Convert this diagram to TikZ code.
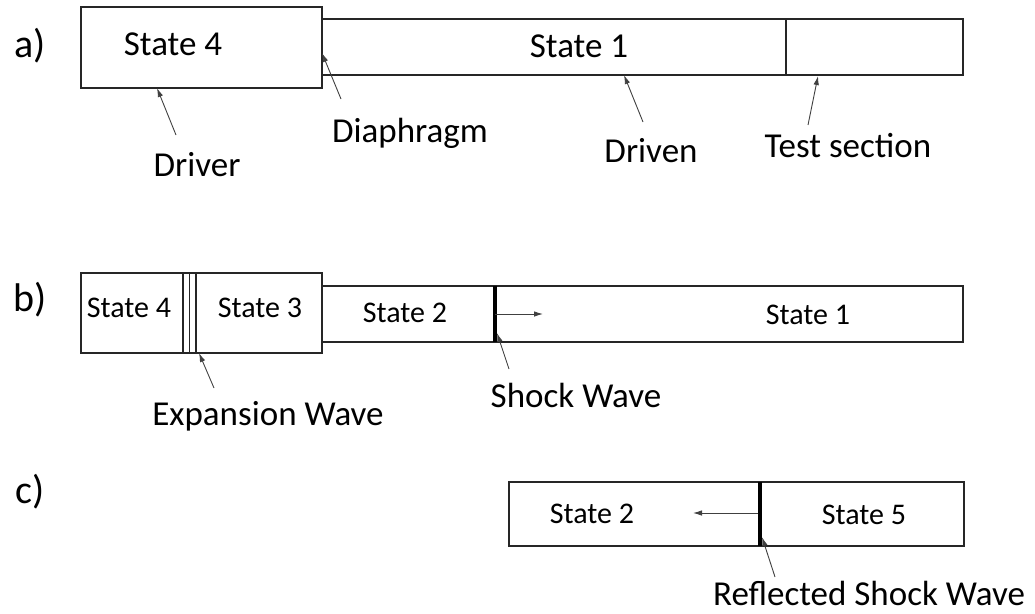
\documentclass[tikz,border=0pt]{standalone}
\usepackage{fontspec}
\setmainfont{Carlito}
\usetikzlibrary{positioning,arrows.meta}

\begin{document}
\begin{tikzpicture}[x=1pt,y=-1pt,
  wall/.style={line width=1.3pt,black!85},
  shock/.style={line width=4pt,black},
  pointer/.style={-{Latex[length=9pt,width=5.5pt]},line width=0.9pt,black!75},
  lbl/.style={anchor=base,inner sep=0pt,font=\fontsize{35}{40}\selectfont},
  state/.style={anchor=base,inner sep=0pt,font=\fontsize{30}{36}\selectfont},
  part/.style={anchor=base,inner sep=0pt,font=\fontsize{40}{46}\selectfont}]
\useasboundingbox (0,0) rectangle (1035,613);
\node[part] (pa) at (30,57) {a)};
\node[part] (pb) at (30,311) {b)};
\node[part] (pc) at (30,503) {c)};
% a) tube at rest
\draw[wall] (81,7) rectangle (322,88);
\draw[wall] (322,19) -- (963,19) -- (963,75) -- (322,75);
\draw[wall] (786,19) -- (786,75);
\node[lbl] (a4) at (173,55) {State 4};
\node[lbl] (a1) at (579,57) {State 1};
\node[lbl] (drvlbl) at (197,176) {Driver};
\node[lbl] (dialbl) at (410,142) {Diaphragm};
\node[lbl] (dnlbl) at (651,162) {Driven};
\node[lbl] (tstlbl) at (848,157) {Test section};
\coordinate (drvtail) at (176,135); \coordinate (drvtip) at (157,88);
\coordinate (diatail) at (341,99); \coordinate (diatip) at (322,53);
\coordinate (dntail) at (643,122); \coordinate (dntip) at (624,75);
\coordinate (tsttail) at (808,125); \coordinate (tsttip) at (818,76);
\draw[pointer] (drvtail) -- (drvtip);
\draw[pointer] (diatail) -- (diatip);
\draw[pointer] (dntail) -- (dntip);
\draw[pointer] (tsttail) -- (tsttip);
% b) after the diaphragm bursts
\draw[wall] (81,273) rectangle (322,353);
\foreach \xx in {183,189.5,196}
  \draw[wall] (\xx,273) -- (\xx,353);
\draw[wall] (322,286) -- (963,286) -- (963,342) -- (322,342);
\draw[shock] (495,286) -- (495,342);
\coordinate (bshock) at (495,314); \coordinate (bmove) at (543,314);
\draw[pointer] (bshock) -- (bmove);
\node[state] (b4) at (129,317) {State 4};
\node[state] (b3) at (260,317) {State 3};
\node[state] (b2) at (405,322) {State 2};
\node[state] (b1) at (808,324) {State 1};
\node[lbl] (explbl) at (268,425) {Expansion Wave};
\node[lbl] (shklbl) at (576,407) {Shock Wave};
\coordinate (exptail) at (214,388); \coordinate (exptip) at (199,353);
\coordinate (shktail) at (509,369); \coordinate (shktip) at (497,333);
\draw[pointer] (exptail) -- (exptip);
\draw[pointer] (shktail) -- (shktip);
% c) reflected shock
\draw[wall] (509,482) rectangle (964,546);
\draw[shock] (760,482) -- (760,546);
\coordinate (cshock) at (758,513); \coordinate (cmove) at (693,513);
\draw[pointer] (cshock) -- (cmove);
\node[state] (c2) at (592,523) {State 2};
\node[state] (c5) at (864,524) {State 5};
\node[lbl] (reflbl) at (869,605) {Reflected Shock Wave};
\coordinate (reftail) at (775,577); \coordinate (reftip) at (762,537);
\draw[pointer] (reftail) -- (reftip);
\end{tikzpicture}
\end{document}
